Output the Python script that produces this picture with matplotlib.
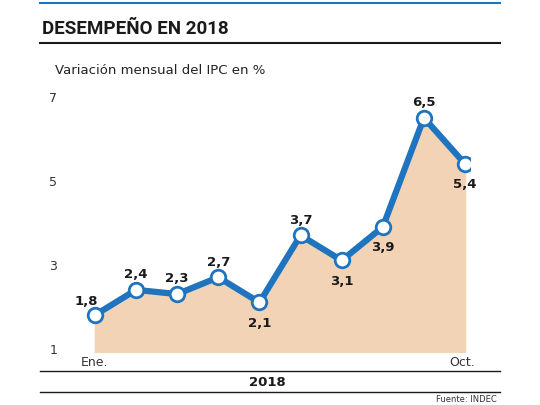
import matplotlib
matplotlib.use("Agg")
import matplotlib.pyplot as plt
from matplotlib.lines import Line2D

months = ["Ene.", "Feb.", "Mar.", "Abr.", "May.", "Jun.", "Jul.", "Ago.", "Sep.", "Oct."]
values = [1.8, 2.4, 2.3, 2.7, 2.1, 3.7, 3.1, 3.9, 6.5, 5.4]
labels = ["1,8", "2,4", "2,3", "2,7", "2,1", "3,7", "3,1", "3,9", "6,5", "5,4"]
yticks = [1, 3, 5, 7]
# label placement: (dx, dy) in points
offs = [(-6, 10), (0, 11), (0, 11), (0, 11), (0, -15), (0, 11), (0, -15), (0, -15), (0, 11), (0, -15)]

W, H = 540, 405
fig = plt.figure(figsize=(5.4, 4.05), dpi=100)
fig.patch.set_facecolor("white")

def fx(px): return px / W
def fy(py): return 1 - py / H

# header
fig.add_artist(Line2D([fx(40), fx(500)], [fy(3), fy(3)], color="#1f74c0", lw=1.5))
fig.text(fx(42), fy(29), "DESEMPEÑO EN 2018", fontsize=13.5, fontweight="bold",
         color="#1a1a1a", va="center", family="DejaVu Sans Condensed" if False else "Roboto")
fig.add_artist(Line2D([fx(40), fx(500)], [fy(43), fy(43)], color="#1a1a1a", lw=1.5))
fig.text(fx(55), fy(70), "Variación mensual del IPC en %", fontsize=9.5, color="#222", va="center")

ax = fig.add_axes([fx(60), fy(352), (470 - 60) / W, (352 - 80) / H])
x = list(range(len(values)))
ax.fill_between(x, values, 0.92, color="#f2d3b6", zorder=1)
ax.plot(x, values, color="#1f74c0", lw=4.5, zorder=2, solid_joinstyle="round")
ax.scatter(x, values, s=110, facecolor="white", edgecolor="#1f74c0", linewidth=2, zorder=3)
for xi, v, lab, (dx, dy) in zip(x, values, labels, offs):
    ax.annotate(lab, (xi, v), xytext=(dx, dy), textcoords="offset points",
                ha="center", va="center", fontsize=9.5, fontweight="bold", color="#1a1a1a")
ax.set_xlim(-0.85, 9.12)
ax.set_ylim(0.92, 7.4)
ax.set_yticks(yticks)
ax.set_yticklabels([str(t) for t in yticks], fontsize=9, color="#333")
ax.tick_params(axis="y", length=0, pad=2)
ax.set_xticks([])
for s in ax.spines.values():
    s.set_visible(False)
ax.patch.set_alpha(0)

fig.text(fx(95), fy(363), months[0], fontsize=9, color="#333", ha="center", va="center")
fig.text(fx(462), fy(363), months[-1], fontsize=9, color="#333", ha="center", va="center")

fig.add_artist(Line2D([fx(40), fx(500)], [fy(371), fy(371)], color="#1a1a1a", lw=1))
fig.text(fx(267), fy(382), "2018", fontsize=9.5, fontweight="bold", color="#1a1a1a",
         ha="center", va="center")
fig.add_artist(Line2D([fx(40), fx(500)], [fy(392), fy(392)], color="#1a1a1a", lw=1))
fig.text(fx(497), fy(399), "Fuente: INDEC", fontsize=6, color="#333", ha="right", va="center")

fig.savefig("out.png", dpi=100)
